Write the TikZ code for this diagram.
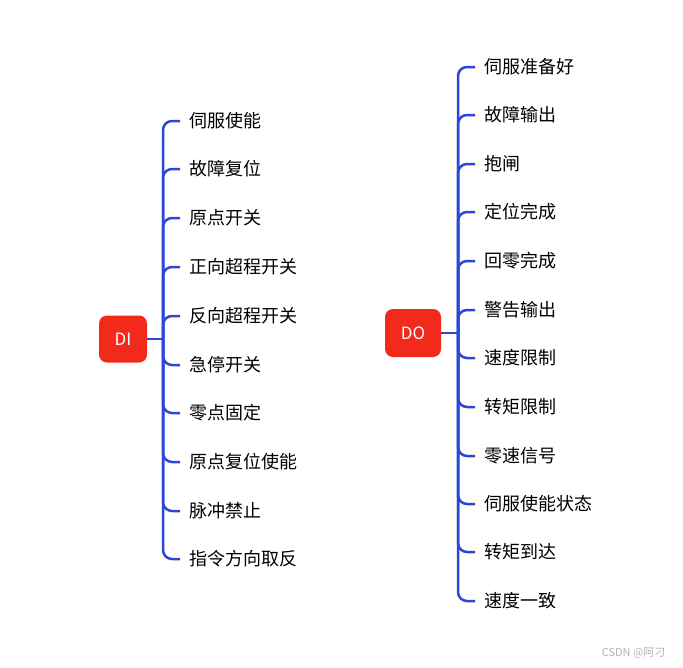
\documentclass[tikz,border=0pt]{standalone}
\usepackage{fontspec}
\setmainfont{Noto Sans CJK SC}
\usetikzlibrary{positioning}

\definecolor{boxred}{HTML}{F22A1B}
\definecolor{lineblue}{HTML}{2C47D6}

\begin{document}
\begin{tikzpicture}[
        x=1pt, y=-1pt,
        rootbox/.style={draw=none, fill=boxred, rounded corners=8pt, text=white, font=\fontsize{17}{19}\selectfont, align=center},
        leaf/.style={anchor=west, inner xsep=9pt, inner ysep=0pt, font=\fontsize{18}{21}\selectfont},
        branch/.style={draw=lineblue, line width=2.5pt, rounded corners=9pt}
    ]
    \useasboundingbox (0,0) rectangle (683,667);

    % Root nodes
    \node[rootbox, minimum width=48pt, minimum height=47pt] (di_root) at (123,339) {DI};
    \node[rootbox, minimum width=56pt, minimum height=48pt] (do_root) at (413,333) {DO};
    \coordinate (di_hub) at (163,339);
    \coordinate (do_hub) at (458,333);

    % DI leaves
    \foreach \i/\y/\txt in {1/121/伺服使能, 2/169/故障复位, 3/218/原点开关, 4/267/正向超程开关,
            5/316/反向超程开关, 6/365/急停开关, 7/413/零点固定, 8/462/原点复位使能,
            9/511/脉冲禁止, 10/559/指令方向取反}
        \node[leaf] (di_\i) at (180,\y) {\txt};

    % DO leaves
    \foreach \i/\y/\txt in {1/67/伺服准备好, 2/115/故障输出, 3/164/抱闸, 4/212/定位完成,
            5/261/回零完成, 6/310/警告输出, 7/358/速度限制, 8/407/转矩限制,
            9/456/零速信号, 10/504/伺服使能状态, 11/552/转矩到达, 12/601/速度一致}
        \node[leaf] (do_\i) at (475,\y) {\txt};

    % Connectors
    \draw[branch] (di_root.east) -- (di_hub);
    \draw[branch] (do_root.east) -- (do_hub);
    \foreach \i in {1,...,10}
        \draw[branch] (di_hub) |- (di_\i.west);
    \foreach \i in {1,...,12}
        \draw[branch] (do_hub) |- (do_\i.west);

    % watermark
    \node[text=gray!60, font=\fontsize{11}{13}\selectfont, anchor=east] (mark) at (669,653) {CSDN @阿刁};
\end{tikzpicture}
\end{document}
